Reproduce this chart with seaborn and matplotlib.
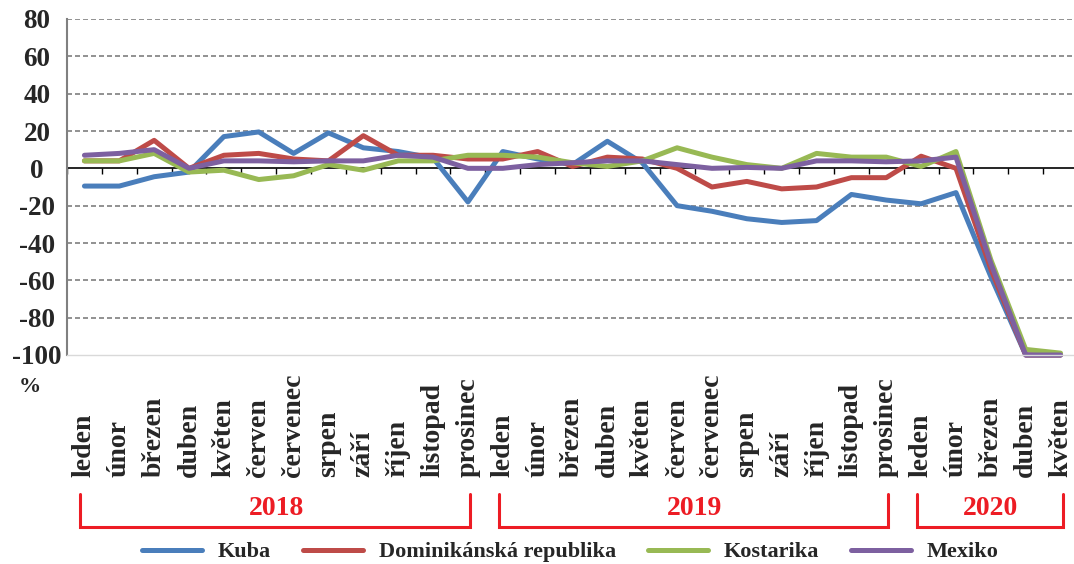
import matplotlib
matplotlib.use('Agg')
import matplotlib.pyplot as plt
import matplotlib.transforms as mtransforms
import numpy as np
import pandas as pd
import seaborn as sns

# ====================== DATA ======================
mesice = ['leden', 'únor', 'březen', 'duben', 'květen', 'červen',
          'červenec', 'srpen', 'září', 'říjen', 'listopad', 'prosinec']
popisky = mesice + mesice + mesice[:5]

roky = ['2018', '2019', '2020']
rok_od = [0, 12, 24]
rok_do = [11, 23, 28]

zeme = ['Kuba', 'Dominikánská republika', 'Kostarika', 'Mexiko']
barvy = ['#4a7ebb', '#be4b48', '#98b954', '#7d60a0']

kuba = [-9.5, -9.5, -4.5, -2, 17, 19.5, 8, 19, 11, 9, 5.5, -18,
        9, 5, 2, 14.5, 3, -20, -23, -27, -29, -28, -14, -17,
        -19, -13, -58, -100, -100]
dom = [4, 4, 15, 0, 7, 8, 5, 4, 17.5, 7, 7, 5,
       5, 9, 1, 6, 5, 0, -10, -7, -11, -10, -5, -5,
       6.5, 0, -54, -100, -100]
kosta = [4, 4, 8, -2, -1, -6, -4, 2, -1, 4, 4, 7,
         7, 6, 3, 1, 4, 11, 6, 2, 0, 8, 6, 6,
         1, 9, -49, -97, -99]
mexiko = [7, 8, 10, 0, 4, 4, 3.5, 4, 4, 7, 6, 0,
          0, 2, 3, 4, 4, 2, 0, 0.5, 0, 4, 4, 3.5,
          4, 6, -51, -100, -100]

df = pd.DataFrame({
    'zeme': np.repeat(zeme, len(popisky)),
    'poradi': np.tile(np.arange(len(popisky)), len(zeme)),
    'hodnota': kuba + dom + kosta + mexiko,
})

# ====================== STYLE ======================
sns.set_style('white')
plt.rcParams['font.family'] = ['Liberation Serif', 'DejaVu Serif']
plt.rcParams['font.weight'] = 'bold'
plt.rcParams['axes.unicode_minus'] = False

fig = plt.figure(figsize=(10.74, 5.64), dpi=100)
ax = fig.add_axes([67 / 1074, 1 - 355 / 564, 1011 / 1074, 336 / 564])

sns.lineplot(data=df, x='poradi', y='hodnota', hue='zeme', hue_order=zeme,
             palette=dict(zip(zeme, barvy)), linewidth=3.6, legend=False,
             ax=ax, clip_on=False)
handles = list(ax.lines[:len(zeme)])

# grid (dashed), zero line with small ticks
for v in range(-80, 81, 20):
    if v != 0:
        ax.axhline(v, color='#7f7f7f', lw=1.2, ls=(0, (3, 1.8)), zorder=0)
ax.axhline(0, color='black', lw=1.2, zorder=1)
ax.vlines(np.arange(-0.5, len(popisky)), -3.2, 0, color='black', lw=1, zorder=1)

for s in ['top', 'right']:
    ax.spines[s].set_visible(False)
ax.spines['left'].set_color('#808080')
ax.spines['left'].set_linewidth(1.5)
ax.spines['bottom'].set_color('#d9d9d9')
ax.spines['bottom'].set_linewidth(1)

# axes ticks
ax.set_xlim(-0.5, len(popisky) - 0.5)
ax.set_ylim(-100, 80)
ax.set_yticks(range(-100, 81, 20))
ax.tick_params(axis='y', length=0, pad=21.6, labelsize=19.5)
for lab in ax.get_yticklabels():
    lab.set_ha('center')
    lab.set_fontweight('bold')

ax.set_xticks(np.arange(len(popisky)))
ax.set_xticks(np.arange(-0.5, len(popisky)), minor=True)
ax.tick_params(axis='x', which='major', length=0, pad=88)
ax.tick_params(axis='x', which='minor', length=88, width=1, color='#d9d9d9', direction='out')
ax.set_xticklabels(popisky, rotation=90, va='bottom', ha='center',
                   fontsize=20, fontweight='bold')
ax.set_xlabel('')
ax.set_ylabel('')

ax.text(30 / 1074, 1 - 387 / 564, '%', transform=fig.transFigure,
        ha='center', va='center', fontsize=16, fontweight='bold')

# year brackets
trans = mtransforms.blended_transform_factory(ax.transData, ax.transAxes)
y_top, y_bot, y_txt = -0.413, -0.511, -0.458
for rok, od, do in zip(roky, rok_od, rok_do):
    x0, x1 = od - 0.12, do + 0.06
    ax.plot([x0, x0, x1, x1], [y_top, y_bot, y_bot, y_top], transform=trans,
            clip_on=False, color='#ed1c24', lw=2.2, solid_joinstyle='miter')
    ax.text((od + do) / 2, y_txt, rok, transform=trans, ha='center', va='center',
            color='#ed1c24', fontsize=20, fontweight='bold')

fig.legend(handles, zeme, loc='center', bbox_to_anchor=(0.531, 0.021), ncol=4,
           frameon=False, prop={'weight': 'bold', 'size': 16},
           handlelength=2.7, handletextpad=0.7, columnspacing=1.45)

fig.savefig('out.png', dpi=100)
plt.close(fig)
